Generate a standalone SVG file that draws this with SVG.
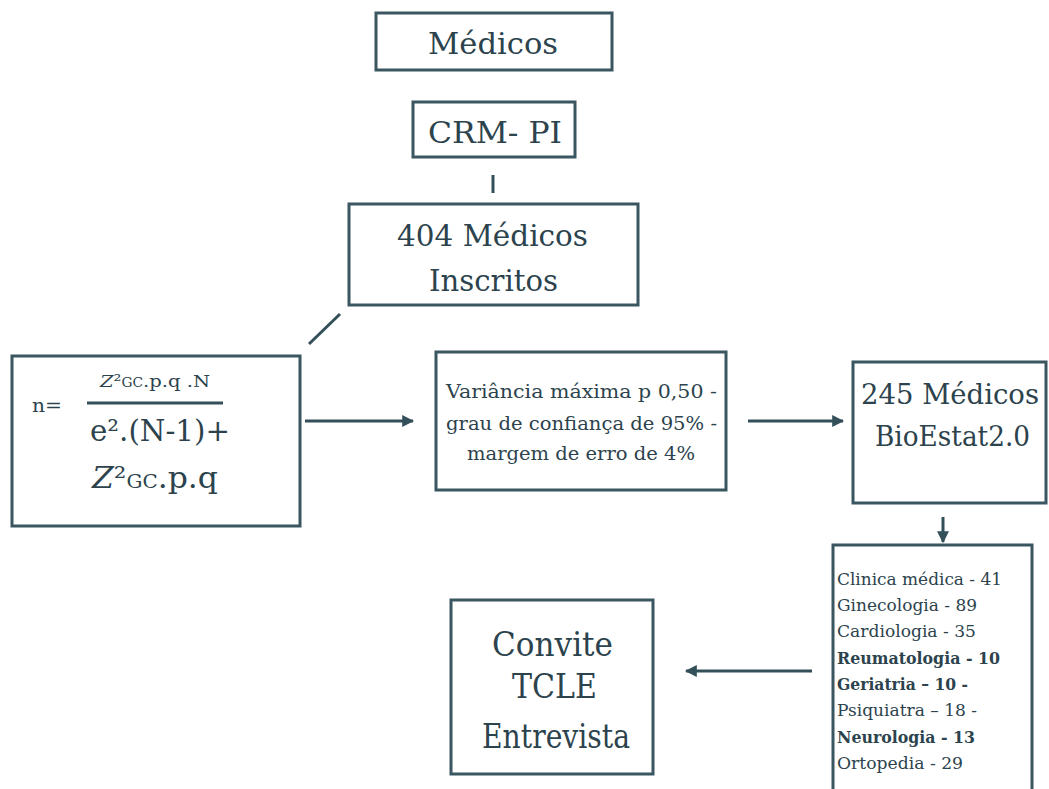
<svg xmlns="http://www.w3.org/2000/svg" width="1049" height="789" viewBox="0 0 1049 789">
<defs>
<style>
.box{fill:#ffffff;stroke:#3a5660;stroke-width:3}
.ln{stroke:#33505a;stroke-width:3;fill:none}
text{font-family:"DejaVu Serif","Liberation Serif",serif;fill:#2c434d}
.big{font-size:30px}
.mid{font-size:19px}
.sm{font-size:17px}
.b{font-weight:bold}
</style>
<marker id="ah" viewBox="0 0 10 10" refX="9" refY="5" markerWidth="4" markerHeight="4" orient="auto" markerUnits="strokeWidth">
<path d="M0,0 L10,5 L0,10 Z" fill="#33505a"/>
</marker>
</defs>
<rect width="1049" height="789" fill="#ffffff"/>

<g id="connectors">
<line class="ln" x1="493" y1="175" x2="493" y2="193"/>
<line class="ln" x1="340" y1="314" x2="309" y2="344"/>
<line class="ln" x1="305" y1="421" x2="413" y2="421" marker-end="url(#ah)"/>
<line class="ln" x1="748" y1="421" x2="843" y2="421" marker-end="url(#ah)"/>
<line class="ln" x1="943" y1="517" x2="943" y2="542" marker-end="url(#ah)"/>
<line class="ln" x1="812" y1="671" x2="686" y2="671" marker-end="url(#ah)"/>
</g>

<g id="medicos">
<rect class="box" x="376" y="13" width="236" height="57"/>
<text class="big" x="428" y="54" textLength="130" lengthAdjust="spacingAndGlyphs">Médicos</text>
</g>

<g id="crm">
<rect class="box" x="413" y="102" width="162" height="55"/>
<text class="big" x="428" y="143" textLength="134" lengthAdjust="spacingAndGlyphs">CRM- PI</text>
</g>

<g id="inscritos">
<rect class="box" x="349" y="204" width="289" height="101"/>
<text class="big" x="397" y="246" textLength="191" lengthAdjust="spacingAndGlyphs">404 Médicos</text>
<text class="big" x="429" y="291" textLength="129" lengthAdjust="spacingAndGlyphs">Inscritos</text>
</g>

<g id="formula">
<rect class="box" x="12" y="356" width="288" height="170"/>
<text x="32" y="412" font-size="19" textLength="30" lengthAdjust="spacingAndGlyphs">n=</text>
<text x="100" y="387" font-size="17" textLength="110" lengthAdjust="spacingAndGlyphs"><tspan font-style="italic">Z</tspan>²<tspan font-size="12">GC</tspan>.p.q .N</text>
<line x1="87" y1="403" x2="223" y2="403" stroke="#33505a" stroke-width="3"/>
<text class="big" x="90" y="441" textLength="140" lengthAdjust="spacingAndGlyphs">e².(N-1)+</text>
<text class="big" x="92" y="488" textLength="126" lengthAdjust="spacingAndGlyphs"><tspan font-style="italic">Z</tspan>²<tspan font-size="19">GC</tspan>.p.q</text>
</g>

<g id="variancia">
<rect class="box" x="436" y="352" width="290" height="138"/>
<text class="mid" x="446" y="398" textLength="271" lengthAdjust="spacingAndGlyphs">Variância máxima p 0,50 -</text>
<text class="mid" x="446" y="430" textLength="271" lengthAdjust="spacingAndGlyphs">grau de confiança de 95% -</text>
<text class="mid" x="467" y="460" textLength="228" lengthAdjust="spacingAndGlyphs">margem de erro de 4%</text>
</g>

<g id="bioestat">
<rect class="box" x="853" y="362" width="193" height="141"/>
<text x="861" y="404" font-size="28" textLength="178" lengthAdjust="spacingAndGlyphs">245 Médicos</text>
<text x="875" y="446" font-size="27" textLength="155" lengthAdjust="spacingAndGlyphs">BioEstat2.0</text>
</g>

<g id="especialidades">
<rect class="box" x="833" y="545" width="199" height="260"/>
<text class="sm" x="837" y="585" textLength="165" lengthAdjust="spacingAndGlyphs">Clinica médica - 41</text>
<text class="sm" x="837" y="611" textLength="140" lengthAdjust="spacingAndGlyphs">Ginecologia - 89</text>
<text class="sm" x="837" y="637" textLength="139" lengthAdjust="spacingAndGlyphs">Cardiologia - 35</text>
<text class="sm b" x="837" y="664" textLength="163" lengthAdjust="spacingAndGlyphs">Reumatologia - 10</text>
<text class="sm b" x="837" y="690" textLength="131" lengthAdjust="spacingAndGlyphs">Geriatria – 10 -</text>
<text class="sm" x="837" y="716" textLength="140" lengthAdjust="spacingAndGlyphs">Psiquiatra – 18 -</text>
<text class="sm b" x="837" y="743" textLength="138" lengthAdjust="spacingAndGlyphs">Neurologia - 13</text>
<text class="sm" x="837" y="769" textLength="126" lengthAdjust="spacingAndGlyphs">Ortopedia - 29</text>
</g>

<g id="convite">
<rect class="box" x="451" y="600" width="202" height="174"/>
<text x="492" y="656" font-size="33" textLength="121" lengthAdjust="spacingAndGlyphs">Convite</text>
<text x="512" y="698" font-size="33" textLength="85" lengthAdjust="spacingAndGlyphs">TCLE</text>
<text x="482" y="748" font-size="33" textLength="148" lengthAdjust="spacingAndGlyphs">Entrevista</text>
</g>
</svg>
